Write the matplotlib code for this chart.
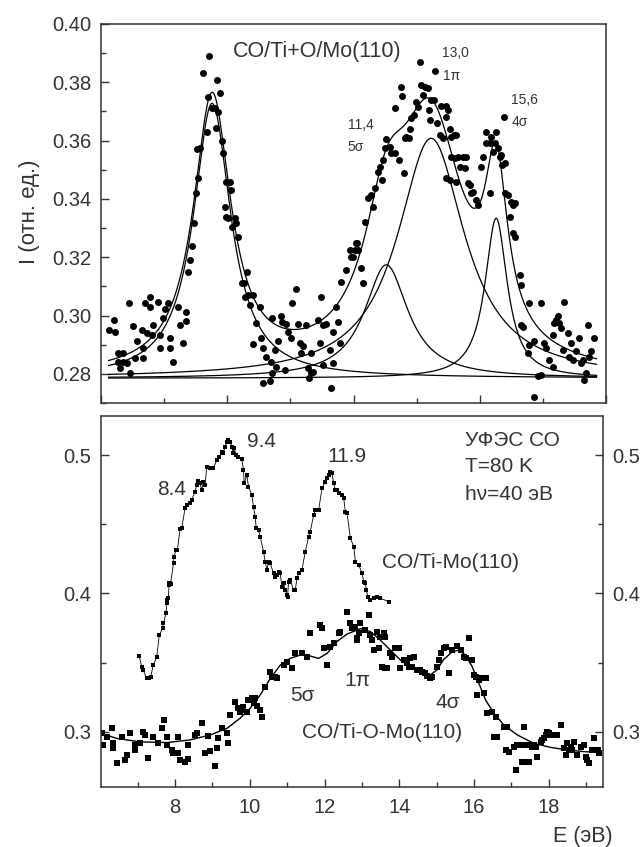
import numpy as np
import matplotlib
matplotlib.use("Agg")
import matplotlib.pyplot as plt
from matplotlib.ticker import MultipleLocator, FormatStrFormatter

plt.rcParams['font.family'] = ['Liberation Sans', 'DejaVu Sans']

# ---------------- top panel: CO/Ti+O/Mo(110) data points ----------------
top_x = [0.132, 0.206, 0.221, 0.274, 0.343, 0.274, 0.353, 0.300, 0.406, 0.459,
         0.448, 0.511, 0.564, 0.538, 0.670, 0.659, 0.696, 0.775, 0.775, 0.643,
         0.722, 0.802, 0.828, 0.907, 0.933, 0.933, 0.986, 1.012, 1.065, 1.092,
         1.092, 1.144, 1.250, 1.303, 1.345, 1.345, 1.223, 1.382, 1.408, 1.434,
         1.477, 1.503, 1.540, 1.566, 1.524, 1.682, 1.698, 1.608, 1.714, 1.751,
         1.804, 1.830, 1.856, 1.893, 1.819, 1.909, 1.935, 1.988, 2.057, 2.041,
         1.962, 1.978, 2.015, 2.120, 2.136, 2.083, 2.173, 2.305, 2.263, 2.226,
         2.331, 2.400, 2.278, 2.357, 2.516, 2.463, 2.542, 2.568, 2.400, 2.621,
         2.700, 2.753, 2.716, 2.858, 2.874, 2.938, 2.806, 2.964, 3.017, 3.033,
         3.096, 3.122, 3.149, 3.201, 3.175, 3.243, 3.333, 3.280, 3.296, 3.359,
         3.465, 3.491, 3.439, 3.518, 3.570, 3.623, 3.676, 3.755, 3.781, 3.729,
         3.808, 3.887, 3.940, 3.992, 4.045, 4.072, 2.716, 2.779, 2.911, 2.568,
         2.674, 3.639, 3.676, 3.518, 3.333,
         3.966, 4.019, 4.056, 4.125, 4.151, 4.177, 4.230, 4.283, 4.309, 4.336,
         4.388, 4.415, 4.452, 4.467, 4.494, 4.520, 4.573, 4.599, 4.652, 4.721,
         4.794, 4.810, 4.837, 4.879, 4.889, 4.652, 4.758, 4.773, 4.916, 4.953,
         4.995, 5.021, 5.074, 5.100, 5.127, 5.179, 5.195, 5.206, 5.232, 5.269,
         5.322, 5.048, 5.285, 5.364, 5.390, 5.459, 5.417, 5.470, 5.496, 5.522,
         5.549, 5.586, 5.617, 5.549, 5.601, 5.654, 5.680, 5.733, 5.760, 5.786,
         5.812, 5.839, 5.865, 5.891, 5.944, 5.971, 5.470, 5.522, 5.628, 6.023,
         6.050, 6.092, 6.102, 6.155, 6.182, 6.208, 6.234, 6.261, 6.287, 6.313,
         6.340, 6.356, 6.393, 6.155, 6.393, 6.445, 6.498, 6.524, 6.551, 6.472,
         6.524, 6.551, 6.377, 6.630, 6.656, 6.656, 6.683, 6.788, 6.762, 6.788,
         6.867, 6.920, 6.973, 6.973, 7.025, 7.052, 7.157, 7.184, 7.210, 7.236,
         7.263, 7.289, 7.316, 7.342, 7.395, 7.421, 7.447, 7.474, 7.527, 7.579,
         7.606, 7.632, 7.685, 7.711, 7.737, 7.764, 7.817, 7.658, 6.867, 7.104,
         7.157]
top_y = [0.2951, 0.2985, 0.2945, 0.2871, 0.2871, 0.2842, 0.2842, 0.2819, 0.2837, 0.2802,
         0.3042, 0.2965, 0.2911, 0.2854, 0.2888, 0.2854, 0.3042, 0.3063, 0.3031, 0.2951,
         0.2940, 0.2934, 0.2968, 0.3048, 0.2934, 0.2888, 0.2991, 0.3022, 0.3042, 0.2922,
         0.2888, 0.2842, 0.2968, 0.2905, 0.2982, 0.3011, 0.3031, 0.3151, 0.3191, 0.3239,
         0.3319, 0.3422, 0.3471, 0.3574, 0.3571, 0.3631, 0.3751, 0.3831, 0.3891, 0.3711,
         0.3711, 0.3808, 0.3699, 0.3762, 0.3642, 0.3597, 0.3559, 0.3457, 0.3431, 0.3459,
         0.3374, 0.3339, 0.3334, 0.3334, 0.3317, 0.3303, 0.3271, 0.3151, 0.3111, 0.3111,
         0.3071, 0.3071, 0.3065, 0.3037, 0.3031, 0.2974, 0.2922, 0.2888, 0.2903, 0.2859,
         0.2842, 0.2882, 0.2991, 0.2999, 0.2979, 0.2971, 0.2911, 0.2945, 0.2922, 0.3042,
         0.3090, 0.2971, 0.2905, 0.2894, 0.2871, 0.2968, 0.2871, 0.2819, 0.2785, 0.2805,
         0.2905, 0.3062, 0.2985, 0.2968, 0.2971, 0.2882, 0.2945, 0.2977, 0.2907, 0.3031,
         0.3116, 0.3157, 0.3225, 0.3202, 0.3248, 0.3225, 0.2802, 0.2825, 0.2814, 0.2768,
         0.2774, 0.2751, 0.2837, 0.2831, 0.2802,
         0.3202, 0.3225, 0.3248, 0.3162, 0.3111, 0.3322, 0.3402, 0.3414, 0.3374, 0.3437,
         0.3494, 0.3511, 0.3465, 0.3534, 0.3574, 0.3605, 0.3579, 0.3557, 0.3557, 0.3534,
         0.3490, 0.3608, 0.3614, 0.3608, 0.3639, 0.3711, 0.3785, 0.3753, 0.3677, 0.3688,
         0.3734, 0.3717, 0.3791, 0.3757, 0.3785, 0.3779, 0.3705, 0.3671, 0.3739, 0.3739,
         0.3659, 0.3871, 0.3840, 0.3619, 0.3719, 0.3719, 0.3608, 0.3682, 0.3705, 0.3639,
         0.3614, 0.3619, 0.3619, 0.3545, 0.3539, 0.3545, 0.3511, 0.3545, 0.3505, 0.3545,
         0.3454, 0.3448, 0.3419, 0.3425, 0.3396, 0.3379, 0.3471, 0.3465, 0.3459, 0.3511,
         0.3545, 0.3591, 0.3631, 0.3591, 0.3614, 0.3562, 0.3591, 0.3631, 0.3574, 0.3545,
         0.3551, 0.3517, 0.3522, 0.3419, 0.3419, 0.3414, 0.3391, 0.3379, 0.3385, 0.3339,
         0.3282, 0.3271, 0.3682, 0.3139, 0.3105, 0.2968, 0.2962, 0.3042, 0.2871, 0.2899,
         0.2911, 0.2791, 0.2797, 0.3042, 0.2905, 0.2888, 0.2934, 0.2974, 0.2985, 0.2997,
         0.2974, 0.2957, 0.2882, 0.3048, 0.2940, 0.2859, 0.2905, 0.2848, 0.2877, 0.2922,
         0.2837, 0.2848, 0.2802, 0.2968, 0.2859, 0.2877, 0.2922, 0.2779, 0.2722, 0.2848,
         0.2825]

# Lorentzian fit components
fit_baseline = 0.2785
peak_centers = [1.76, 4.52, 5.23, 6.26]
peak_heights = [0.0943, 0.0389, 0.0823, 0.0549]
peak_halfwidths = [0.36, 0.42, 0.65, 0.215]
fit_range = [0.12, 7.85]

# ---------------- bottom panel ----------------
timo_x = [7.04, 7.11, 7.15, 7.24, 7.31, 7.35, 7.42, 7.51, 7.58, 7.67,
          7.69, 7.759, 7.78, 7.794, 7.80, 7.821, 7.84, 7.848, 7.866, 7.88,
          7.96, 7.973, 8.027, 8.063, 8.134, 8.179, 8.268, 8.331, 8.402, 8.447,
          8.536, 8.581, 8.626, 8.670, 8.715, 8.760, 8.804, 8.849, 8.938, 9.028,
          9.117, 9.189, 9.251, 9.296, 9.340, 9.385, 9.430, 9.475, 9.519, 9.546,
          9.582, 9.635, 9.698, 9.787, 9.832, 9.850, 9.921, 9.966, 10.055, 10.100,
          10.145, 10.172, 10.234, 10.279, 10.368, 10.413, 10.458, 10.502, 10.547, 10.636,
          10.681, 10.726, 10.770, 10.815, 10.860, 10.904, 10.949, 10.994, 11.012, 11.038,
          11.083, 11.172, 11.217, 11.262, 11.307, 11.396, 11.485, 11.575, 11.619, 11.709,
          11.753, 11.843, 11.932, 12.021, 12.066, 12.111, 12.155, 12.200, 12.245, 12.290,
          12.334, 12.379, 12.468, 12.513, 12.558, 12.602, 12.692, 12.781, 12.826, 12.915,
          13.004, 13.049, 13.094, 13.121, 13.157, 13.228, 13.317, 13.407, 13.496, 13.719]
timo_y = [0.3547, 0.3470, 0.3446, 0.3385, 0.3385, 0.3397, 0.3482, 0.3537, 0.3700, 0.3748,
          0.3784, 0.3856, 0.3929, 0.3953, 0.3965, 0.3965, 0.4062, 0.4074, 0.4074, 0.4069,
          0.4219, 0.4267, 0.4315, 0.4315, 0.4465, 0.4472, 0.4617, 0.4641, 0.4653, 0.4678,
          0.4738, 0.4786, 0.4815, 0.4798, 0.4750, 0.4811, 0.4786, 0.4919, 0.4907, 0.4907,
          0.4968, 0.4992, 0.5028, 0.5016, 0.5064, 0.5100, 0.5112, 0.5100, 0.5064, 0.5016,
          0.5052, 0.5004, 0.4992, 0.4972, 0.4895, 0.4798, 0.4859, 0.4774, 0.4714, 0.4629,
          0.4557, 0.4472, 0.4460, 0.4412, 0.4303, 0.4231, 0.4170, 0.4231, 0.4219, 0.4146,
          0.4122, 0.4134, 0.4158, 0.4146, 0.4050, 0.4074, 0.4026, 0.3989, 0.3977, 0.4086,
          0.4098, 0.4026, 0.4026, 0.4110, 0.4146, 0.4170, 0.4303, 0.4412, 0.4448, 0.4569,
          0.4605, 0.4605, 0.4762, 0.4811, 0.4835, 0.4859, 0.4883, 0.4871, 0.4798, 0.4750,
          0.4750, 0.4726, 0.4714, 0.4690, 0.4593, 0.4581, 0.4400, 0.4339, 0.4231, 0.4207,
          0.4146, 0.4086, 0.4074, 0.4026, 0.3977, 0.3953, 0.3965, 0.3977, 0.3965, 0.3941]

tiomo_x = [6.034, 6.079, 6.168, 6.302, 6.347, 6.347, 6.436, 6.570, 6.660, 6.704,
           6.794, 6.928, 6.928, 7.062, 7.151, 7.196, 7.285, 7.419, 7.553, 7.643,
           7.705, 7.777, 7.777, 7.911, 7.955, 8.089, 8.089, 8.134, 8.268, 8.357,
           8.357, 8.536, 8.581, 8.715, 8.804, 8.894, 8.938, 9.072, 9.117, 9.162,
           9.251, 9.385, 9.430, 9.475, 9.609, 9.698, 9.743, 9.787, 9.832, 9.921,
           9.966, 10.055, 10.100, 10.145, 10.189, 10.279, 10.324, 10.413, 10.547, 10.592,
           10.681, 10.726, 10.904, 10.994, 11.128, 11.217, 11.396, 11.530, 11.619, 11.887,
           11.932, 11.977, 12.066, 12.155, 12.245, 12.379, 12.424, 12.602, 12.692, 12.870,
           12.915, 12.690, 12.735, 12.824, 12.869, 12.958, 13.092, 13.226, 13.271, 13.316,
           13.405, 13.450, 13.494, 13.584, 13.628, 13.182, 13.539, 13.628, 13.673, 13.762,
           13.807, 13.896, 13.986, 14.030, 14.120, 14.209, 14.254, 14.299, 14.343, 14.388,
           14.477, 14.567, 14.611, 14.701, 14.745, 14.835, 14.879, 15.013, 15.058, 15.103,
           15.192, 15.237, 15.326, 15.416, 15.550, 15.639, 15.728, 15.773, 15.863, 15.952,
           15.997, 16.041, 16.086, 16.131, 16.220, 16.265, 16.309, 16.354, 16.488, 16.577,
           16.533, 16.622, 16.801, 16.890, 16.846, 16.935, 17.069, 17.114, 17.158, 17.248,
           17.292, 17.337, 17.382, 17.426, 17.471, 17.516, 17.560, 17.605, 17.650, 17.694,
           17.784, 17.829, 17.873, 17.918, 17.963, 18.007, 18.097, 18.231, 18.320, 18.409,
           18.454, 18.499, 18.543, 18.588, 18.633, 18.678, 18.767, 18.856, 18.946, 18.990,
           19.035, 19.080, 19.169, 19.214, 19.303, 19.348]
tiomo_y = [0.2987, 0.2902, 0.2963, 0.3023, 0.2914, 0.2878, 0.2769, 0.2963, 0.2794, 0.2830,
           0.2987, 0.2902, 0.2866, 0.2914, 0.2999, 0.2975, 0.2806, 0.2963, 0.2919, 0.3023,
           0.3083, 0.2963, 0.2902, 0.2866, 0.2847, 0.2842, 0.2963, 0.2794, 0.2782, 0.2798,
           0.2902, 0.2975, 0.2987, 0.3060, 0.2842, 0.2967, 0.2861, 0.2750, 0.2878, 0.2951,
           0.3023, 0.2987, 0.2914, 0.3120, 0.3216, 0.3168, 0.3144, 0.3156, 0.3180, 0.3144,
           0.3228, 0.3240, 0.3204, 0.3240, 0.3185, 0.3156, 0.3108, 0.3325, 0.3434, 0.3397,
           0.3397, 0.3385, 0.3482, 0.3506, 0.3458, 0.3566, 0.3571, 0.3542, 0.3711, 0.3772,
           0.3748, 0.3603, 0.3482, 0.3615, 0.3639, 0.3711, 0.3724, 0.3868, 0.3789, 0.3675,
           0.3711, 0.3784, 0.3748, 0.3760, 0.3663, 0.3784, 0.3736, 0.3699, 0.3663, 0.3591,
           0.3724, 0.3603, 0.3687, 0.3711, 0.3687, 0.3844, 0.3470, 0.3458, 0.3458, 0.3566,
           0.3542, 0.3603, 0.3603, 0.3458, 0.3518, 0.3494, 0.3470, 0.3530, 0.3470, 0.3542,
           0.3446, 0.3446, 0.3434, 0.3422, 0.3402, 0.3385, 0.3397, 0.3470, 0.3518, 0.3566,
           0.3603, 0.3615, 0.3422, 0.3591, 0.3620, 0.3591, 0.3542, 0.3530, 0.3675, 0.3518,
           0.3409, 0.3397, 0.3265, 0.3373, 0.3385, 0.3276, 0.3385, 0.3132, 0.3144, 0.3108,
           0.2963, 0.2963, 0.3035, 0.3035, 0.2866, 0.2854, 0.2890, 0.2721, 0.2902, 0.2902,
           0.2782, 0.3035, 0.2782, 0.2902, 0.2782, 0.2902, 0.2890, 0.2902, 0.2890, 0.2818,
           0.2926, 0.2938, 0.2951, 0.2975, 0.2999, 0.2987, 0.2975, 0.2975, 0.3047, 0.2878,
           0.2830, 0.2914, 0.2866, 0.2890, 0.2866, 0.2926, 0.2830, 0.2890, 0.2902, 0.2818,
           0.2794, 0.2769, 0.2866, 0.2951, 0.2866, 0.2842]

# smooth fit line through the CO/Ti-O-Mo(110) spectrum
tiomo_fit_x = [6.00, 6.44, 7.06, 7.78, 8.40, 8.94, 9.39, 9.74, 10.01, 10.28,
               10.55, 10.82, 11.08, 11.35, 11.62, 11.84, 12.07, 12.33, 12.60, 12.87,
               12.96, 13.23, 13.49, 13.76, 14.03, 14.30, 14.57, 14.83, 15.01, 15.19,
               15.42, 15.59, 15.77, 15.95, 16.13, 16.31, 16.53, 16.80, 17.16, 17.60,
               18.05, 18.50, 18.95, 19.39]
tiomo_fit_y = [0.2990, 0.2950, 0.2925, 0.2920, 0.2939, 0.2975, 0.3023, 0.3096, 0.3168, 0.3265,
               0.3385, 0.3482, 0.3530, 0.3554, 0.3547, 0.3530, 0.3566, 0.3651, 0.3706, 0.3735,
               0.3745, 0.3723, 0.3663, 0.3590, 0.3518, 0.3465, 0.3426, 0.3410, 0.3446, 0.3523,
               0.3578, 0.3590, 0.3554, 0.3470, 0.3349, 0.3228, 0.3132, 0.3047, 0.2975, 0.2914,
               0.2885, 0.2866, 0.2854, 0.2847]

TXT = '#333333'
SP = '#333333'

fig = plt.figure(figsize=(6.41, 8.47), dpi=100)
ax1 = fig.add_axes([101/641, 1 - 403/847, 505/641, 379/847])
ax2 = fig.add_axes([101/641, 1 - 787/847, 502/641, 371/847])

for ax in (ax1, ax2):
    for s in ax.spines.values():
        s.set_color(SP)
        s.set_linewidth(1.1)

# ---- top panel
ax1.plot(top_x, top_y, 'o', color='black', markersize=5.0, markeredgewidth=0)
xx = np.linspace(fit_range[0], fit_range[1], 600)
total = np.full_like(xx, fit_baseline)
for c, h, w in zip(peak_centers, peak_heights, peak_halfwidths):
    comp = h / (1 + ((xx - c) / w) ** 2)
    total = total + comp
    ax1.plot(xx, fit_baseline + comp, color='black', lw=0.9)
ax1.plot(xx, total, color='black', lw=0.9)

ax1.set_xlim(0, 8)
ax1.set_ylim(0.270, 0.400)
ax1.xaxis.set_major_locator(MultipleLocator(2))
ax1.xaxis.set_minor_locator(MultipleLocator(1))
ax1.yaxis.set_major_locator(MultipleLocator(0.02))
ax1.yaxis.set_minor_locator(MultipleLocator(0.01))
ax1.yaxis.set_major_formatter(FormatStrFormatter('%.2f'))
ax1.tick_params(axis='x', which='both', direction='in', labelbottom=False, color=SP)
ax1.tick_params(axis='y', which='both', direction='in', color=SP, labelcolor=TXT,
                labelsize=14.5, pad=7)
ax1.tick_params(which='major', length=6, width=1)
ax1.tick_params(which='minor', length=3.5, width=1)

ax1.text(2.09, 0.3904, 'CO/Ti+O/Mo(110)', fontsize=15.5, color=TXT, va='center', ha='left')
for s, x, y in [('11,4', 3.91, 0.3652), ('5σ', 3.91, 0.3578), ('13,0', 5.40, 0.3901),
                ('1π', 5.41, 0.3822), ('15,6', 6.50, 0.3740), ('4σ', 6.50, 0.3664)]:
    ax1.text(x, y, s, fontsize=10, color=TXT, va='center', ha='left')

fig.text(30/641, 1 - 212/847, 'I (отн. ед.)', rotation=90, fontsize=16, color=TXT,
         ha='center', va='center')

# ---- bottom panel
order = np.argsort(timo_x)
ax2.plot(np.array(timo_x)[order], np.array(timo_y)[order], '-', color='black', lw=0.6)
ax2.plot(timo_x, timo_y, 's', color='black', markersize=3.0, markeredgewidth=0)
ax2.plot(tiomo_x, tiomo_y, 's', color='black', markersize=3.7, markeredgewidth=0)
ax2.plot(tiomo_fit_x, tiomo_fit_y, '-', color='black', lw=1.0)

ax2.set_xlim(6.02, 19.45)
ax2.set_ylim(0.2598, 0.5286)
ax2.xaxis.set_major_locator(MultipleLocator(2))
ax2.xaxis.set_minor_locator(MultipleLocator(1))
ax2.yaxis.set_major_locator(MultipleLocator(0.1))
ax2.yaxis.set_minor_locator(MultipleLocator(0.05))
ax2.yaxis.set_major_formatter(FormatStrFormatter('%.1f'))
ax2.tick_params(axis='x', which='both', direction='in', color=SP, labelcolor=TXT,
                labelsize=14.5, pad=8)
ax2.tick_params(axis='y', which='both', direction='in', left=True, right=True,
                labelleft=True, labelright=True, color=SP, labelcolor=TXT,
                labelsize=14.5, pad=7)
ax2.tick_params(which='major', length=6, width=1)
ax2.tick_params(which='minor', length=3.5, width=1)

for s, x, y, ha in [('9.4', 9.93, 0.5098, 'left'), ('8.4', 7.52, 0.4750, 'left'),
                    ('11.9', 12.07, 0.4990, 'left'), ('CO/Ti-Mo(110)', 13.55, 0.4221, 'left'),
                    ('УФЭС СО', 15.77, 0.5112, 'left'), ('T=80 K', 15.77, 0.4917, 'left'),
                    ('hν=40 эВ', 15.77, 0.4714, 'left'), ('5σ', 11.08, 0.3264, 'left'),
                    ('1π', 12.88, 0.3370, 'center'), ('4σ', 15.29, 0.3207, 'center'),
                    ('CO/Ti-O-Mo(110)', 13.54, 0.2990, 'center')]:
    ax2.text(x, y, s, fontsize=15, color=TXT, va='center', ha=ha)

fig.text(613/641, 1 - 836/847, 'E (эВ)', fontsize=15.5, color=TXT, ha='right', va='center')

fig.savefig('out.png', dpi=100)
